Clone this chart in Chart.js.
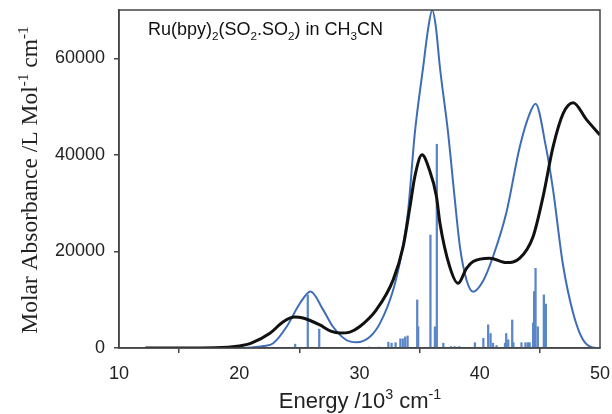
<!DOCTYPE html>
<html>
<head>
<meta charset="utf-8">
<script src="https://cdn.jsdelivr.net/npm/chart.js@4"></script>
<style>
html, body { margin: 0; padding: 0; background: #fff; }
#wrap { width: 612px; height: 414px; }
</style>
</head>
<body>
<div id="wrap"><canvas id="spectrum"></canvas></div>
<script>
// measured spectrum (black)
const expX = [12.2, 15, 18, 19, 20, 21, 22.55, 23.66, 24.6, 25.3, 26.7, 27.6, 28.4, 29.2, 30.0, 31.4, 32.8, 33.63, 34.2, 34.6, 35.2, 35.8, 36.4, 36.68, 37.5, 38.2, 38.9, 39.45, 40.84, 42.2, 43.33, 44.44, 45.27, 46.1, 46.94, 47.77, 48.88, 50];
const expY = [0, 0, 50, 150, 400, 1000, 3040, 5450, 6400, 6200, 4770, 3500, 3100, 3300, 4400, 7900, 14100, 21000, 29300, 35500, 40000, 37000, 31400, 26000, 16850, 13400, 16500, 17900, 18600, 17700, 18600, 23100, 31400, 41700, 48600, 50800, 47300, 44100];

// calculated spectrum (blue)
const calcX = [20, 21, 22, 22.83, 23.94, 25.05, 25.93, 26.98, 27.8, 28.9, 29.75, 30.87, 31.7, 32.8, 33.5, 34.05, 34.6, 35.3, 35.7, 36.05, 36.35, 36.68, 37.37, 37.9, 38.35, 38.9, 39.45, 40.3, 41.1, 42.2, 43.33, 44.16, 44.64, 45.5, 46.1, 46.9, 47.77, 48.6, 49.7, 50];
const calcY = [0, 100, 400, 1000, 4400, 9260, 11700, 7900, 4400, 1660, 1200, 2340, 5100, 12000, 19600, 28600, 44500, 58300, 66000, 70000, 66500, 58300, 44500, 31400, 21000, 14100, 11670, 14000, 18900, 27900, 41700, 48600, 50600, 41700, 32700, 17550, 7200, 1660, 0, 0];

// transition sticks
const stickX = [24.65, 25.7, 26.65, 30.8, 31.6, 32.4, 32.67, 33.0, 33.4, 33.6, 33.8, 34.0, 34.8, 34.88, 35.9, 36.27, 36.43, 36.97, 37.6, 37.9, 38.3, 39.6, 40.3, 40.7, 40.9, 41.1, 41.4, 42.1, 42.2, 42.37, 42.7, 42.8, 43.47, 43.8, 44.0, 44.15, 44.44, 44.52, 44.64, 44.83, 45.33, 45.5];
const stickY = [800, 11000, 3900, 200, 200, 1200, 1000, 1100, 1900, 1900, 2300, 2500, 9950, 4400, 23400, 4400, 42200, 1000, 300, 300, 300, 1100, 2000, 4800, 3000, 1000, 500, 1000, 3000, 1700, 5800, 1100, 1100, 1100, 1100, 1100, 5200, 11700, 16500, 4400, 11000, 9100];

const xTicks = [10, 20, 30, 40, 50];
const yTicks = [0, 20000, 40000, 60000];

const sans = '"Liberation Sans", Arial, sans-serif';
const serif = '"Liberation Serif", "Times New Roman", serif';
const axisColor = '#444';

function pairs(xs, ys) {
    return xs.map((x, i) => ({ x: x, y: ys[i] }));
}

// draws text with sub/superscripts; parts = [[text, shift]] shift 1 = sup, -1 = sub
function richText(ctx, parts, x, y, size, family, align) {
    const small = size * 0.65;
    let w = 0;
    parts.forEach(p => {
        ctx.font = (p[1] ? small : size) + 'px ' + family;
        w += ctx.measureText(p[0]).width;
    });
    let cx = align === 'center' ? x - w / 2 : x;
    ctx.textAlign = 'left';
    ctx.textBaseline = 'alphabetic';
    parts.forEach(p => {
        ctx.font = (p[1] ? small : size) + 'px ' + family;
        const dy = p[1] === 1 ? -size * 0.4 : p[1] === -1 ? size * 0.25 : 0;
        ctx.fillText(p[0], cx, y + dy);
        cx += ctx.measureText(p[0]).width;
    });
}

const decor = {
    id: 'decor',
    beforeDraw(chart) {
        const ctx = chart.ctx;
        ctx.save();
        ctx.fillStyle = '#fff';
        ctx.fillRect(0, 0, chart.width, chart.height);
        ctx.restore();
    },
    afterDraw(chart) {
        const ctx = chart.ctx, a = chart.chartArea;
        ctx.save();
        ctx.strokeStyle = axisColor;
        ctx.lineWidth = 1.5;
        ctx.strokeRect(a.left, a.top, a.right - a.left, a.bottom - a.top);

        ctx.fillStyle = '#111';
        richText(ctx, [['Ru(bpy)', 0], ['2', -1], ['(SO', 0], ['2', -1], ['.SO', 0], ['2', -1], [') in CH', 0], ['3', -1], ['CN', 0]],
            a.left + 29, 35, 18, sans, 'left');

        ctx.fillStyle = '#222';
        richText(ctx, [['Energy /10', 0], ['3', 1], [' cm', 0], ['-1', 1]], 360, 408, 22, sans, 'center');

        ctx.translate(37, 180);
        ctx.rotate(-Math.PI / 2);
        richText(ctx, [['Molar Absorbance /L Mol', 0], ['-1', 1], [' cm', 0], ['-1', 1]], 0, 0, 23.5, serif, 'center');
        ctx.restore();
    }
};

const ctx = document.getElementById('spectrum').getContext('2d');

new Chart(ctx, {
    type: 'bar',
    data: {
        datasets: [{
            type: 'line',
            data: pairs(expX, expY),
            borderColor: '#111',
            borderWidth: 3,
            pointRadius: 0,
            cubicInterpolationMode: 'monotone',
            order: 1
        }, {
            type: 'line',
            data: pairs(calcX, calcY),
            borderColor: '#3e6db5',
            borderWidth: 2,
            pointRadius: 0,
            cubicInterpolationMode: 'monotone',
            order: 2
        }, {
            type: 'bar',
            data: pairs(stickX, stickY),
            backgroundColor: '#5b86c8',
            barThickness: 1.6,
            grouped: false,
            order: 3
        }]
    },
    options: {
        responsive: true,
        maintainAspectRatio: false,
        animation: false,
        devicePixelRatio: 1,
        layout: { padding: { left: 0, top: 10, right: 12, bottom: 0 } },
        plugins: {
            legend: { display: false },
            tooltip: { enabled: false }
        },
        scales: {
            x: {
                type: 'linear',
                min: 10,
                max: 50,
                offset: false,
                afterFit: s => { s.height = 66; s.paddingLeft = 0; s.paddingRight = 0; },
                afterBuildTicks: s => { s.ticks = xTicks.map(v => ({ value: v })); },
                ticks: { font: { family: sans, size: 18 }, color: '#222', padding: 10, maxRotation: 0 },
                grid: { drawOnChartArea: false, drawTicks: true, tickLength: 5, color: axisColor, lineWidth: 1.5 },
                border: { color: axisColor, width: 1.5 }
            },
            y: {
                min: 0,
                max: 70000,
                afterFit: s => { s.width = 119; s.paddingTop = 0; s.paddingBottom = 0; },
                afterBuildTicks: s => { s.ticks = yTicks.map(v => ({ value: v })); },
                ticks: { font: { family: sans, size: 18 }, color: '#222', padding: 9, callback: v => String(v) },
                grid: { drawOnChartArea: false, drawTicks: true, tickLength: 5, color: axisColor, lineWidth: 1.5 },
                border: { color: axisColor, width: 1.5 }
            }
        }
    },
    plugins: [decor]
});
</script>
</body>
</html>
